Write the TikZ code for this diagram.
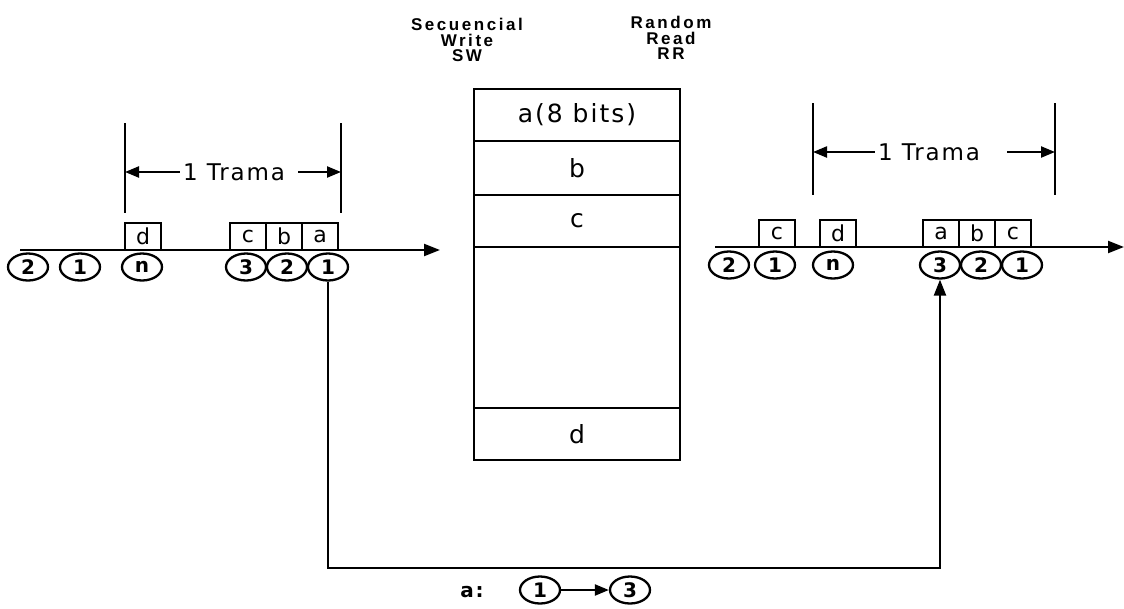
\documentclass[tikz,border=0pt]{standalone}
\usepackage{fontspec}
\setmainfont{DejaVu Sans}[LetterSpace=8]
\newfontfamily\hdrfont{Liberation Sans}[LetterSpace=15]
\usetikzlibrary{arrows.meta,positioning,shapes.geometric}
\tikzset{
  slot/.style={draw, line width=2.3pt, minimum width=36pt, minimum height=27pt, inner sep=0pt, font=\fontsize{22}{22}\selectfont},
  tag/.style={draw, ellipse, line width=2.3pt, minimum width=40pt, minimum height=27pt, inner sep=0pt, font=\bfseries\fontsize{20}{20}\selectfont},
  cell/.style={draw, line width=2.4pt, minimum width=206pt, inner sep=0pt, font=\fontsize{25}{25}\selectfont},
  flow/.style={-{Triangle[length=16pt,width=12pt]}, line width=2.3pt},
  trspan/.style={-{Triangle[length=14pt,width=11pt]}, line width=2.2pt},
  limit/.style={line width=2.2pt},
  trama/.style={font=\fontsize{23}{23}\selectfont},
  header/.style={align=center, font=\hdrfont\bfseries\fontsize{17}{15.5}\selectfont}
}
\begin{document}
\begin{tikzpicture}[x=1pt, y=-1pt]
  \useasboundingbox (0,0) rectangle (1124,608);
  % headers
  \node[header] (swlbl) at (467,40) {Secuencial\\Write\\SW};
  \node[header] (rrlbl) at (671,38) {Random\\Read\\RR};
  % memory
  \node[cell, minimum height=52pt] (ma) at (577,115) {a(8 bits)};
  \node[cell, minimum height=54pt] (mb) at (577,168) {b};
  \node[cell, minimum height=52pt] (mc) at (577,221) {c};
  \node[cell, minimum height=161pt] (mgap) at (577,327.5) {};
  \node[cell, minimum height=52pt] (md) at (577,434) {d};
  % incoming frame
  \coordinate (inS) at (20,250);
  \coordinate (inE) at (440,250);
  \draw[flow] (inS) -- (inE);
  \node[slot] (ld) at (143,236.5) {d};
  \node[slot] (lc) at (248,236.5) {c};
  \node[slot] (lb) at (284,236.5) {b};
  \node[slot] (la) at (320,236.5) {a};
  \node[tag] (lo2) at (28,267) {2};
  \node[tag] (lo1) at (80,267) {1};
  \node[tag] (lon) at (142,267) {n};
  \node[tag] (lp3) at (246,267) {3};
  \node[tag] (lp2) at (287,267) {2};
  \node[tag] (lp1) at (328,267) {1};
  \draw[limit] (125,123) -- (125,213);
  \draw[limit] (341,123) -- (341,213);
  \coordinate (tl) at (125,172);
  \coordinate (tr) at (341,172);
  \node[trama] (trL) at (234,172) {1 Trama};
  \draw[trspan] (trL.west) -- (tl);
  \draw[trspan] ([xshift=10pt]trL.east) -- (tr);
  % outgoing frame
  \coordinate (outS) at (715,247);
  \coordinate (outE) at (1124,247);
  \draw[flow] (outS) -- (outE);
  \node[slot] (rc1) at (777,233.5) {c};
  \node[slot] (rd) at (838,233.5) {d};
  \node[slot] (ra) at (941,233.5) {a};
  \node[slot] (rb) at (977,233.5) {b};
  \node[slot] (rc) at (1013,233.5) {c};
  \node[tag] (ro2) at (729,265) {2};
  \node[tag] (ro1) at (775,265) {1};
  \node[tag] (ron) at (833,265) {n};
  \node[tag] (rp3) at (940,265) {3};
  \node[tag] (rp2) at (981,265) {2};
  \node[tag] (rp1) at (1022,265) {1};
  \draw[limit] (813,103) -- (813,195);
  \draw[limit] (1055,103) -- (1055,195);
  \coordinate (tl2) at (813,152);
  \coordinate (tr2) at (1055,152);
  \node[trama] (trR) at (929,152) {1 Trama};
  \draw[trspan] (trR.west) -- (tl2);
  \draw[trspan] ([xshift=24pt]trR.east) -- (tr2);
  % slot interchange
  \coordinate (bot) at (0,568);
  \draw[flow] (lp1.south) -- (lp1.south |- bot) -| (rp3.south);
  \node[font=\bfseries\fontsize{20}{20}\selectfont] (akey) at (472,592) {a:};
  \node[tag] (k1) at (540,590) {1};
  \node[tag] (k3) at (630,590) {3};
  \draw[trspan] (k1) -- (k3);
\end{tikzpicture}
\end{document}
